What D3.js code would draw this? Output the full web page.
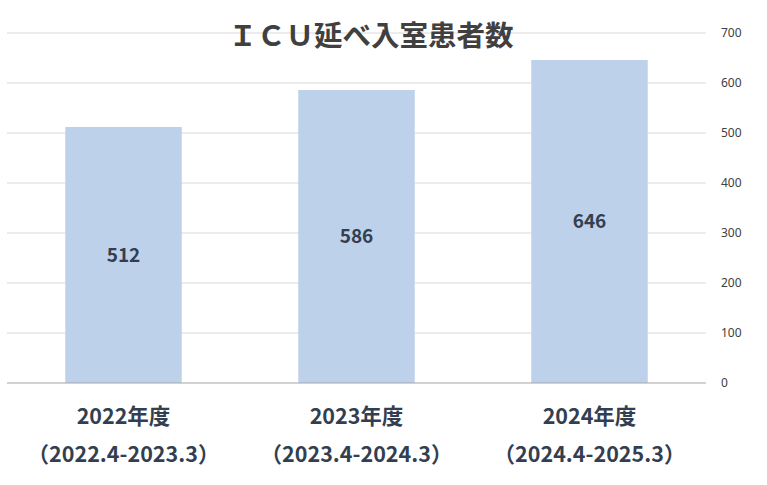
<!DOCTYPE html>
<html>
<head>
<meta charset="utf-8">
<script src="https://d3js.org/d3.v7.min.js"></script>
<style>
  body { margin: 0; background: #fff; }
  svg { font-family: "Noto Sans CJK JP", "Noto Sans", sans-serif; }
</style>
</head>
<body>
<svg width="767" height="485"></svg>
<script>
// データ
const categories = ["2022年度", "2023年度", "2024年度"];
const periods = ["（2022.4-2023.3）", "（2023.4-2024.3）", "（2024.4-2025.3）"];
const patients = [512, 586, 646];
const yTicks = [0, 100, 200, 300, 400, 500, 600, 700];
const title = "ＩＣＵ延べ入室患者数";

const svg = d3.select("svg");
const margin = { top: 33, right: 61, bottom: 102, left: 7 };
const width = 767 - margin.left - margin.right;
const height = 485 - margin.top - margin.bottom;

const g = svg.append("g")
  .attr("transform", `translate(${margin.left},${margin.top})`);

const x = d3.scaleBand().domain(categories).range([0, width]).paddingInner(0.5).paddingOuter(0.25);
const y = d3.scaleLinear().domain([0, 700]).range([height, 0]);

// グリッド線
g.append("g")
  .selectAll("line")
  .data(yTicks.filter(d => d > 0))
  .join("line")
  .attr("x1", 0).attr("x2", width)
  .attr("y1", d => y(d)).attr("y2", d => y(d))
  .attr("stroke", "#d9d9d9")
  .attr("stroke-width", 1);

// 棒
g.append("g")
  .selectAll("rect")
  .data(patients)
  .join("rect")
  .attr("x", (d, i) => x(categories[i]))
  .attr("y", d => y(d))
  .attr("width", x.bandwidth())
  .attr("height", d => y(0) - y(d))
  .attr("fill", "#bdd1ea");

// 基線
g.append("line")
  .attr("x1", 0).attr("x2", width)
  .attr("y1", y(0)).attr("y2", y(0))
  .attr("stroke", "#a6a6a6")
  .attr("stroke-width", 1);

// 値ラベル
g.append("g")
  .selectAll("text")
  .data(patients)
  .join("text")
  .attr("x", (d, i) => x(categories[i]) + x.bandwidth() / 2)
  .attr("y", d => (y(d) + y(0)) / 2)
  .attr("dy", "0.35em")
  .attr("text-anchor", "middle")
  .attr("font-size", 19)
  .attr("font-weight", "bold")
  .attr("fill", "#333f50")
  .text(d => d);

// 右側の軸
const yAxis = g.append("g")
  .attr("transform", `translate(${width + 15},0)`)
  .call(d3.axisRight(y).tickValues(yTicks).tickSize(0).tickPadding(0));
yAxis.select(".domain").remove();
yAxis.selectAll("text")
  .attr("font-size", 12)
  .attr("fill", "#404040")
  .attr("font-family", "'Noto Sans', sans-serif");

// カテゴリーラベル
const xl = g.append("g").selectAll("g")
  .data(categories)
  .join("g")
  .attr("transform", d => `translate(${x(d) + x.bandwidth() / 2},${height})`);
xl.append("text")
  .attr("y", 33)
  .attr("dy", "0.35em")
  .attr("text-anchor", "middle")
  .attr("font-size", 21.5)
  .attr("font-weight", "bold")
  .attr("fill", "#333f50")
  .text(d => d);
xl.append("text")
  .attr("y", 71)
  .attr("dy", "0.35em")
  .attr("text-anchor", "middle")
  .attr("font-size", 21.5)
  .attr("font-weight", "bold")
  .attr("fill", "#333f50")
  .text((d, i) => periods[i]);

// タイトル
svg.append("text")
  .attr("x", 371)
  .attr("y", 36)
  .attr("dy", "0.35em")
  .attr("text-anchor", "middle")
  .attr("font-size", 28.5)
  .attr("font-weight", "bold")
  .attr("fill", "#404040")
  .text(title);
</script>
</body>
</html>
